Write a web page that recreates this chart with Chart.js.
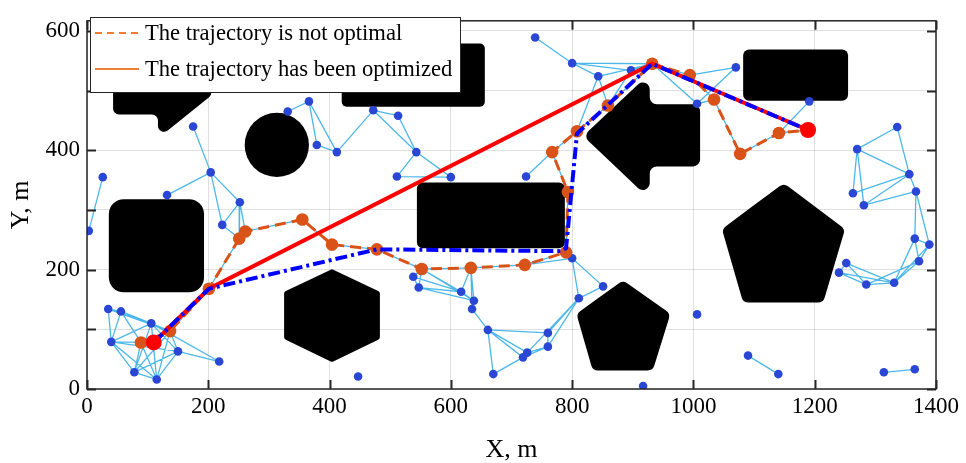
<!DOCTYPE html>
<html>
<head>
<meta charset="utf-8">
<script src="https://cdn.jsdelivr.net/npm/chart.js@4.4.1/dist/chart.umd.min.js"></script>
<style>
  html, body { margin: 0; padding: 0; background: #fff; }
  #wrap { width: 966px; height: 463px; }
</style>
</head>
<body>
<div id="wrap"><canvas id="chart" width="966" height="463"></canvas></div>
<script>
// roadmap nodes [x, y] in metres; the first 22 are the raw path waypoints (orange)
const nodes = [
  [89, 78], [137, 97], [201, 168], [251, 252], [261, 264], [355, 284], [404, 242], [478, 234],
  [552, 201], [633, 203], [722, 208], [790, 229], [793, 330], [767, 397], [808, 432], [859, 475],
  [932, 545], [994, 526], [1034, 485], [1077, 394], [1141, 429], [1189, 434],
  // 22.. blue nodes
  [43, 612], [175, 440], [26, 355], [3, 265], [132, 325], [204, 363], [252, 313], [223, 275],
  [331, 465], [366, 482], [379, 409], [412, 397], [472, 467], [513, 458], [543, 397], [511, 356],
  [600, 355], [429, 612], [473, 614],
  [739, 589], [800, 546], [843, 524], [897, 534], [724, 356], [1006, 478], [1070, 539], [1191, 482],
  [35, 134], [56, 130], [106, 110], [40, 79], [150, 63], [78, 28], [115, 16], [218, 46], [447, 21],
  [538, 188], [547, 170], [617, 163], [638, 148], [635, 134], [661, 99], [760, 94], [760, 71],
  [726, 61], [719, 53], [670, 25], [800, 219], [851, 172], [811, 152], [917, 5], [1006, 125],
  [1090, 56], [1140, 25],
  [1270, 402], [1336, 439], [1356, 360], [1263, 328], [1281, 308], [1367, 331], [1365, 252],
  [1389, 242], [1372, 214], [1252, 211], [1240, 195], [1285, 175], [1331, 178], [1314, 28], [1365, 33]
];
const rawPath = [0, 1, 2, 3, 4, 5, 6, 7, 8, 9, 10, 11, 12, 13, 14, 15, 16, 17, 18, 19, 20, 21];
const edges = [
  [24, 25], [23, 27], [26, 27], [27, 28], [27, 29], [28, 29], [28, 3], [29, 3], [28, 4],
  [30, 31], [31, 32], [31, 33], [32, 33], [33, 34], [34, 35], [34, 36], [35, 36], [36, 37], [36, 38], [37, 38], [39, 40],
  [45, 13],
  [41, 42], [42, 43], [42, 44], [42, 16], [43, 16], [43, 15], [43, 14], [44, 15], [44, 16], [16, 46], [46, 47], [17, 47], [46, 18], [20, 48],
  [49, 50], [49, 51], [49, 52], [49, 1], [50, 51], [50, 52], [50, 0], [50, 1], [51, 52], [51, 53], [51, 54], [51, 55], [51, 1],
  [52, 0], [52, 54], [52, 55], [52, 53], [53, 54], [53, 55], [53, 1], [53, 56], [54, 55], [0, 54], [0, 55], [1, 55], [1, 54], [51, 56],
  [8, 58], [8, 59], [8, 60], [8, 61], [58, 59], [58, 60], [59, 60], [59, 61], [60, 61], [9, 60], [9, 61], [9, 62], [61, 62],
  [62, 63], [63, 64], [63, 66], [63, 67], [63, 68], [64, 65], [65, 66], [65, 67], [66, 67], [67, 68],
  [69, 11], [69, 10], [69, 70], [69, 71], [70, 71], [71, 64], [71, 65], [71, 66],
  [74, 75], [89, 90],
  [76, 77], [76, 78], [77, 78], [76, 79], [76, 80], [78, 79], [78, 80], [78, 81], [80, 81], [81, 82], [81, 83], [82, 83],
  [82, 84], [83, 84], [82, 88], [83, 88], [84, 88], [84, 87], [85, 86], [85, 87], [85, 88], [86, 87], [86, 88], [87, 88]
];
const startPt = [110, 78];
const goalPt = [1189, 434];
const optimizedPath = [[110, 78], [201, 168], [932, 545], [1189, 434]];
const smoothedPath = [[110, 78], [201, 168], [478, 234], [782, 231], [790, 236], [808, 428], [932, 545], [1189, 434]];

// obstacles: polygon vertices in metres, and one circle [cx, cy, r]
const obstacles = [
  [[43, 505], [43, 460], [117, 460], [117, 420], [205, 492], [205, 505]],
  [[420, 579], [656, 579], [656, 473], [420, 473]],
  [[36, 318], [193, 318], [193, 162], [36, 162]],
  [[404, 201], [483, 163], [483, 84], [404, 45], [325, 84], [325, 163]],
  [[544, 346], [788, 346], [788, 236], [544, 236]],
  [[818, 424], [928, 529], [928, 477], [1011, 477], [1011, 373], [928, 373], [928, 318]],
  [[1082, 569], [1255, 569], [1255, 483], [1082, 483]],
  [[1149, 345], [1250, 268], [1214, 145], [1082, 145], [1047, 268]],
  [[884, 182], [962, 126], [933, 31], [834, 31], [807, 126]]
];
const circleObstacle = [313, 409, 53];

const xTicks = [0, 200, 400, 600, 800, 1000, 1200, 1400];
const yTicks = [0, 100, 200, 300, 400, 500, 600];
const yLabels = [0, 200, 400, 600];

const cornerR = [6, 5, 15, 3, 6, 7, 6, 7, 7];
const serif = "'Liberation Serif', 'DejaVu Serif', serif";

const toXY = p => ({ x: p[0], y: p[1] });
const allEdges = rawPath.slice(1).map((n, i) => [rawPath[i], n]).concat(edges);
const edgeData = [];
allEdges.forEach(([a, b]) => {
  edgeData.push(toXY(nodes[a]), toXY(nodes[b]), { x: NaN, y: NaN });
});

function roundedPoly(ctx, pts, r) {
  const n = pts.length;
  ctx.moveTo((pts[n - 1][0] + pts[0][0]) / 2, (pts[n - 1][1] + pts[0][1]) / 2);
  for (let i = 0; i < n; i++) {
    const p = pts[i], q = pts[(i + 1) % n];
    ctx.arcTo(p[0], p[1], q[0], q[1], r);
  }
  ctx.closePath();
}

const obstaclePlugin = {
  id: 'obstacles',
  beforeDatasetsDraw(chart) {
    const { ctx, chartArea, scales: { x, y } } = chart;
    ctx.save();
    ctx.beginPath();
    ctx.rect(chartArea.left, chartArea.top, chartArea.width, chartArea.height);
    ctx.clip();
    ctx.fillStyle = '#000';
    obstacles.forEach((poly, i) => {
      const pts = poly.map(p => [x.getPixelForValue(p[0]), y.getPixelForValue(p[1])]);
      ctx.beginPath();
      roundedPoly(ctx, pts, cornerR[i]);
      ctx.fill();
    });
    const [cx, cy, r] = circleObstacle;
    ctx.beginPath();
    ctx.arc(x.getPixelForValue(cx), y.getPixelForValue(cy),
      x.getPixelForValue(cx + r) - x.getPixelForValue(cx), 0, Math.PI * 2);
    ctx.fill();
    ctx.restore();
  }
};

const framePlugin = {
  id: 'frame',
  afterDraw(chart) {
    const { ctx, chartArea: a, scales: { x, y } } = chart;
    ctx.save();
    ctx.strokeStyle = '#262626';
    ctx.lineWidth = 1.5;
    ctx.strokeRect(a.left, a.top, a.width, a.height);
    ctx.beginPath();
    const tl = 9;
    xTicks.forEach(v => {
      const px = Math.round(x.getPixelForValue(v)) + 0.5;
      ctx.moveTo(px, a.bottom); ctx.lineTo(px, a.bottom - tl);
      ctx.moveTo(px, a.top); ctx.lineTo(px, a.top + tl);
    });
    yTicks.forEach(v => {
      const py = Math.round(y.getPixelForValue(v)) + 0.5;
      ctx.moveTo(a.left, py); ctx.lineTo(a.left + tl, py);
      ctx.moveTo(a.right, py); ctx.lineTo(a.right - tl, py);
    });
    ctx.lineWidth = 2;
    ctx.stroke();

    // legend box
    const bx = 90, by = 17, bw = 370, bh = 75;
    ctx.fillStyle = '#fff';
    ctx.fillRect(bx, by, bw, bh);
    ctx.lineWidth = 1;
    ctx.strokeStyle = '#262626';
    ctx.strokeRect(bx + 0.5, by + 0.5, bw, bh);
    const rows = [
      { y: 33, dash: [7, 5], label: chart.data.datasets[2].label },
      { y: 69, dash: [], label: chart.data.datasets[3].label }
    ];
    rows.forEach(r => {
      ctx.beginPath();
      ctx.setLineDash(r.dash);
      ctx.strokeStyle = '#ee7d35';
      ctx.lineWidth = 2;
      ctx.moveTo(95, r.y); ctx.lineTo(139, r.y);
      ctx.stroke();
      ctx.setLineDash([]);
      ctx.fillStyle = '#000';
      ctx.font = '22.6px ' + serif;
      ctx.textBaseline = 'middle';
      ctx.fillText(r.label, 145, r.y + 1);
    });
    ctx.restore();
  }
};

new Chart(document.getElementById('chart'), {
  type: 'scatter',
  data: {
    datasets: [
      {
        label: 'roadmap',
        data: edgeData,
        showLine: true,
        borderColor: '#4db8e8',
        borderWidth: 1.3,
        pointRadius: 0,
        order: 7
      },
      {
        label: 'nodes',
        data: nodes.slice(rawPath.length).map(toXY),
        pointRadius: 4.3,
        pointBackgroundColor: '#2a46d5',
        pointBorderWidth: 0,
        order: 6
      },
      {
        label: 'The trajectory is not optimal',
        data: rawPath.map(i => toXY(nodes[i])),
        showLine: true,
        borderColor: '#d95319',
        borderWidth: 3,
        borderDash: [11, 6],
        pointRadius: 6.3,
        pointBackgroundColor: '#d95319',
        pointBorderWidth: 0,
        order: 5
      },
      {
        label: 'The trajectory has been optimized',
        data: optimizedPath.map(toXY),
        showLine: true,
        borderColor: '#ff0000',
        borderWidth: 4,
        pointRadius: 0,
        order: 4
      },
      {
        label: 'smoothed',
        data: smoothedPath.map(toXY),
        showLine: true,
        borderColor: '#0000ff',
        borderWidth: 4,
        borderDash: [12, 4, 3, 4],
        pointRadius: 0,
        order: 3
      },
      {
        label: 'start / goal',
        data: [startPt, goalPt].map(toXY),
        pointRadius: 8,
        pointBackgroundColor: '#ff0000',
        pointBorderWidth: 0,
        order: 2
      }
    ]
  },
  options: {
    responsive: false,
    animation: false,
    devicePixelRatio: 1,
    layout: { padding: { top: 15, right: 30, left: 0, bottom: 0 } },
    plugins: { legend: { display: false }, tooltip: { enabled: false } },
    scales: {
      x: {
        type: 'linear', min: 0, max: 1400,
        afterBuildTicks: s => { s.ticks = xTicks.map(v => ({ value: v })); },
        afterFit: s => { s.height = 74; },
        grid: { color: 'rgba(0,0,0,0.12)', drawTicks: false },
        border: { display: false },
        ticks: { color: '#000', padding: 4, maxRotation: 0, autoSkip: false, font: { family: serif, size: 23 },
                 callback: v => String(v) },
        title: { display: true, text: 'X, m', color: '#000', padding: { top: 0, bottom: 0 },
                 font: { family: serif, size: 26, lineHeight: 1 } }
      },
      y: {
        type: 'linear', min: 0, max: 617,
        afterBuildTicks: s => { s.ticks = yTicks.map(v => ({ value: v })); },
        afterFit: s => { s.width = 87; },
        grid: { color: 'rgba(0,0,0,0.12)', drawTicks: false },
        border: { display: false },
        ticks: { color: '#000', padding: 7, autoSkip: false, font: { family: serif, size: 23 },
                 callback: v => yLabels.includes(v) ? String(v) : '' },
        title: { display: true, text: 'Y, m', color: '#000', padding: { top: 8, bottom: 0 },
                 font: { family: serif, size: 26, lineHeight: 1 } }
      }
    }
  },
  plugins: [obstaclePlugin, framePlugin]
});
</script>
</body>
</html>
